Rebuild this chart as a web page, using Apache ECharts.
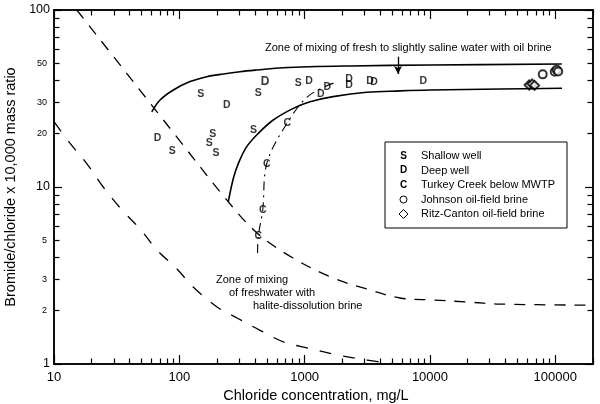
<!DOCTYPE html>
<html>
<head>
    <meta charset="utf-8">
    <title>Bromide/chloride vs chloride</title>
    <script src="https://cdn.jsdelivr.net/npm/echarts@6/dist/echarts.min.js"></script>
</head>
<body style="margin:0;background:#fff;">
<div id="chart" style="width: 600px; height: 404px;"></div>
<script>
    // 坐标轴刻度
    var xLabels = [10, 100, 1000, 10000, 100000];
    var yLabels = [1, 2, 3, 5, 10, 20, 30, 50, 100];
    var xMajor = [10, 100, 1000, 10000, 100000];
    var yMajor = [1, 10, 100];

    // 点数据 (氯化物 mg/L, 溴/氯比 x 10000)
    var shallowX = [148, 427, 88, 185, 173, 196, 390, 890];
    var shallowY = [33.5, 33.8, 16.0, 19.9, 17.7, 15.5, 21.0, 38.5];
    var deepX = [239, 67, 483, 1084, 1344, 1518, 2261, 2261, 3327, 3581, 8850];
    var deepY = [29.1, 19.0, 39.4, 39.4, 33.5, 36.5, 40.8, 37.7, 39.7, 39.0, 39.7];
    var creekX = [728, 498, 463, 427];
    var creekY = [23.1, 13.5, 7.4, 5.3];
    var johnsonX = [79400, 99000, 102500, 105500];
    var johnsonY = [43.3, 44.8, 45.9, 45.0];
    var ritzX = [61800, 65300, 68400];
    var ritzY = [37.7, 38.2, 37.5];

    // 混合曲线
    var oilUpperX = [60.3, 70.2, 89.6, 121.7, 165.5, 224.5, 305, 415, 672, 2303, 10020, 112700];
    var oilUpperY = [26.6, 31.0, 35.3, 39.4, 42.0, 43.5, 44.8, 45.8, 47.2, 48.3, 48.9, 49.5];
    var oilLowerX = [246, 270, 296, 345, 427, 562, 812, 1104, 1685, 3131, 5770, 10020, 36270, 113200];
    var oilLowerY = [8.26, 11.2, 13.6, 16.9, 20.1, 23.9, 27.8, 30.3, 32.4, 34.3, 34.9, 35.3, 35.8, 36.1];
    var creekTrendX = [421, 427, 463, 498, 728, 1026, 1327, 1824];
    var creekTrendY = [4.24, 5.29, 7.41, 13.5, 23.1, 31.8, 35.8, 39.4];
    var haliteUpperX = [15.2, 38.0, 95.3, 239, 417, 808, 1687, 3150, 5770, 10600, 19800, 36300, 200000];
    var haliteUpperY = [100, 43.9, 19.2, 8.45, 5.50, 3.97, 3.06, 2.65, 2.36, 2.30, 2.24, 2.18, 2.15];
    var haliteLowerX = [10, 13.4, 18.2, 24.7, 34.9, 48.6, 66.3, 95.9, 129, 200, 289, 433, 685, 1065, 1815, 3150, 5770, 10000];
    var haliteLowerY = [23.4, 17.7, 13.6, 10.0, 7.41, 5.79, 4.41, 3.44, 2.72, 2.10, 1.82, 1.56, 1.33, 1.23, 1.124, 1.053, 1.0, 1.0];

    // 箭头
    var arrowX = 5560;
    var arrowY = [54.5, 43.5];

    var legendSymbols = ['S', 'D', 'C', 'circle', 'diamond'];
    var legendNames = ['Shallow well', 'Deep well', 'Turkey Creek below MWTP',
        'Johnson oil-field brine', 'Ritz-Canton oil-field brine'];

    var FONT = "'Liberation Sans', Arial, sans-serif";

    function zip(xs, ys) {
        return xs.map(function (x, i) { return [x, ys[i]]; });
    }

    // 次刻度 2..9 每个十进位
    function minorTicks(from, to) {
        var out = [];
        for (var d = from; d < to; d *= 10) {
            for (var k = 2; k <= 9; k++) {
                if (d * k <= to) out.push(d * k);
            }
        }
        return out;
    }

    var xMinor = minorTicks(10, 200000);
    var yMinor = minorTicks(1, 100);

    function xAxisOf(pos, ticks, len, withLabel) {
        var ax = {
            type: 'log', logBase: 10, min: 10, max: 200000, position: pos,
            axisLine: { show: true, onZero: false, lineStyle: { color: '#000', width: 1.5 } },
            axisTick: { show: true, inside: true, length: len, customValues: ticks,
                lineStyle: { color: '#000', width: 1.2 } },
            axisLabel: { show: false },
            splitLine: { show: false }
        };
        if (withLabel) {
            ax.axisLabel = {
                show: true, customValues: xLabels, margin: 7, color: '#000',
                fontSize: 13, fontFamily: FONT,
                formatter: function (v) { return String(Math.round(v)); }
            };
            ax.name = 'Chloride concentration, mg/L';
            ax.nameLocation = 'middle';
            ax.nameGap = 21;
            ax.nameTextStyle = { fontSize: 14.5, color: '#000', fontFamily: FONT, padding: [0, 15, 0, 0] };
        }
        return ax;
    }

    function yAxisOf(pos, ticks, len, withLabel) {
        var ax = {
            type: 'log', logBase: 10, min: 1, max: 100, position: pos,
            axisLine: { show: true, onZero: false, lineStyle: { color: '#000', width: 1.5 } },
            axisTick: { show: true, inside: true, length: len, customValues: ticks,
                lineStyle: { color: '#000', width: 1.2 } },
            axisLabel: { show: false },
            splitLine: { show: false }
        };
        if (withLabel) {
            ax.axisLabel = {
                show: true, customValues: yLabels, margin: 4, color: '#000', fontFamily: FONT,
                formatter: function (v) {
                    var s = String(Math.round(v));
                    return yMajor.indexOf(Math.round(v)) >= 0 ? '{a|' + s + '}' : '{b|' + s + '}';
                },
                rich: {
                    a: { fontSize: 12.5, fontFamily: FONT, color: '#000' },
                    b: { fontSize: 9, fontFamily: FONT, color: '#000', padding: [0, 3, 0, 0] }
                }
            };
            ax.name = 'Bromide/chloride x 10,000 mass ratio';
            ax.nameLocation = 'middle';
            ax.nameGap = 32;
            ax.nameTextStyle = { fontSize: 14.5, color: '#000', fontFamily: FONT };
        }
        return ax;
    }

    var myChart = echarts.init(document.getElementById('chart'));

    function lineSeries(xs, ys, dash, width) {
        return {
            type: 'line', data: zip(xs, ys), xAxisIndex: 0, yAxisIndex: 0,
            smooth: 0.35, showSymbol: false, symbol: 'none', silent: true,
            lineStyle: { color: '#000', width: width, type: dash }
        };
    }

    function letterSeries(xs, ys, letter) {
        return {
            type: 'scatter', data: zip(xs, ys), xAxisIndex: 0, yAxisIndex: 0,
            symbol: 'circle', symbolSize: 6, silent: true,
            itemStyle: { color: 'rgba(0,0,0,0)' },
            label: { show: true, position: 'inside', formatter: letter, color: '#000',
                fontSize: 10.5, fontWeight: 'bold', fontFamily: FONT }
        };
    }

    var upper = lineSeries(oilUpperX, oilUpperY, 'solid', 1.6);
    upper.markLine = {
        silent: true, symbol: ['none', 'arrow'], symbolSize: [6, 8], animation: false,
        label: { show: false },
        lineStyle: { color: '#000', type: 'solid', width: 1.3 },
        data: [[{ coord: [arrowX, arrowY[0]] }, { coord: [arrowX, arrowY[1]] }]]
    };

    var deep = letterSeries(deepX, deepY, 'D');
    deep.data[2] = { value: deep.data[2], label: { fontSize: 12 } };

    var option = {
        animation: false,
        backgroundColor: '#fff',
        grid: { left: 54, right: 7, top: 10, bottom: 40, containLabel: false, outerBoundsMode: 'none' },
        xAxis: [
            xAxisOf('bottom', xMajor, 9, true),
            xAxisOf('bottom', xMinor, 5.5, false),
            xAxisOf('top', xMajor, 9, false),
            xAxisOf('top', xMinor, 5.5, false)
        ],
        yAxis: [
            yAxisOf('left', yMajor, 8, true),
            yAxisOf('left', yMinor, 5.5, false),
            yAxisOf('right', yMajor, 8, false),
            yAxisOf('right', yMinor, 5.5, false)
        ],
        series: [
            lineSeries(haliteUpperX, haliteUpperY, [11, 9], 1.3),
            lineSeries(haliteLowerX, haliteLowerY, [12, 12], 1.3),
            upper,
            lineSeries(oilLowerX, oilLowerY, 'solid', 1.6),
            lineSeries(creekTrendX, creekTrendY, [9, 5, 2, 5], 1.1),
            letterSeries(shallowX, shallowY, 'S'),
            deep,
            letterSeries(creekX, creekY, 'C'),
            {
                type: 'scatter', data: zip(johnsonX, johnsonY), symbol: 'emptyCircle', symbolSize: 8,
                silent: true, itemStyle: { color: '#000', borderColor: '#000', borderWidth: 1 }
            },
            {
                type: 'scatter', data: zip(ritzX, ritzY), symbol: 'emptyDiamond', symbolSize: 9,
                silent: true, itemStyle: { color: '#000', borderColor: '#000', borderWidth: 1 }
            }
        ],
        graphic: []
    };

    // 注释文字
    var g = option.graphic;
    g.push({ type: 'text', left: 265, top: 42, silent: true,
        style: { text: 'Zone of mixing of fresh to slightly saline water with oil brine',
            fontSize: 11, fontFamily: FONT, fill: '#000' } });
    g.push({ type: 'text', left: 216, top: 274, silent: true,
        style: { text: 'Zone of mixing', fontSize: 11, fontFamily: FONT, fill: '#000' } });
    g.push({ type: 'text', left: 229, top: 287, silent: true,
        style: { text: 'of freshwater with', fontSize: 11, fontFamily: FONT, fill: '#000' } });
    g.push({ type: 'text', left: 253, top: 300, silent: true,
        style: { text: 'halite-dissolution brine', fontSize: 11, fontFamily: FONT, fill: '#000' } });

    // 图例框
    var lx = 385, ly = 142, lw = 182, lh = 86, row = 14.5;
    g.push({ type: 'rect', shape: { x: lx, y: ly, width: lw, height: lh }, silent: true,
        style: { fill: '#fff', stroke: '#000', lineWidth: 1 }, z: 50 });
    legendNames.forEach(function (name, i) {
        var cy = ly + 14 + i * row;
        var sym = legendSymbols[i];
        if (sym === 'circle') {
            g.push({ type: 'circle', shape: { cx: 403.5, cy: cy, r: 3.5 }, silent: true, z: 51,
                style: { fill: 'none', stroke: '#000', lineWidth: 1 } });
        } else if (sym === 'diamond') {
            g.push({ type: 'polygon', silent: true, z: 51,
                shape: { points: [[403.5, cy - 4.5], [408, cy], [403.5, cy + 4.5], [399, cy]] },
                style: { fill: 'none', stroke: '#000', lineWidth: 1 } });
        } else {
            g.push({ type: 'text', x: 403.5, y: cy, silent: true, z: 51,
                style: { text: sym, fontSize: 10, fontWeight: 'bold', fontFamily: FONT, fill: '#000',
                    align: 'center', verticalAlign: 'middle' } });
        }
        g.push({ type: 'text', x: 421, y: cy, silent: true, z: 51,
            style: { text: name, fontSize: 11, fontFamily: FONT, fill: '#000', verticalAlign: 'middle' } });
    });

    myChart.setOption(option);
</script>
</body>
</html>
